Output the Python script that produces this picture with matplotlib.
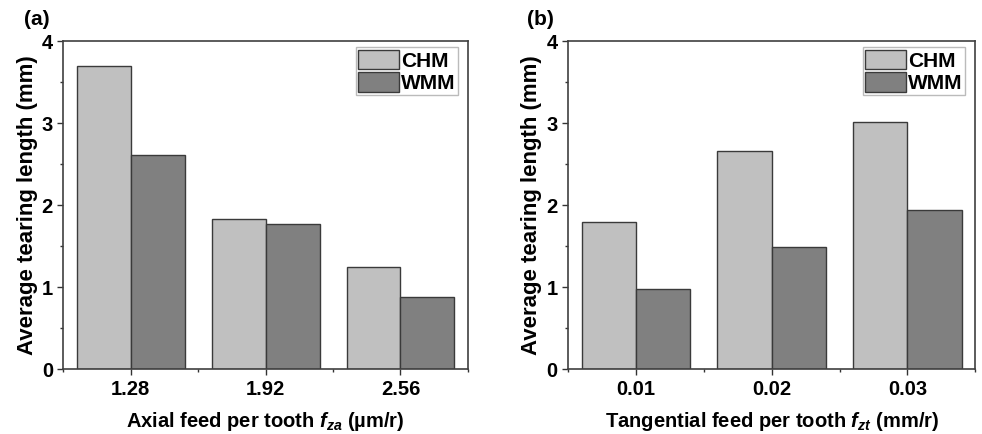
import numpy as np
import matplotlib
matplotlib.use("Agg")
import matplotlib.pyplot as plt
from matplotlib.ticker import MultipleLocator

plt.rcParams['font.family'] = ['Liberation Sans', 'DejaVu Sans']
plt.rcParams['font.weight'] = 'bold'
plt.rcParams['mathtext.fontset'] = 'custom'
plt.rcParams['mathtext.it'] = 'Liberation Sans:italic:bold'
plt.rcParams['mathtext.rm'] = 'Liberation Sans:bold'

# Données
axial_feed = ["1.28", "1.92", "2.56"]
axial_chm = [3.70, 1.83, 1.25]
axial_wmm = [2.61, 1.77, 0.88]

tang_feed = ["0.01", "0.02", "0.03"]
tang_chm = [1.79, 2.66, 3.01]
tang_wmm = [0.98, 1.49, 1.94]

series_names = ["CHM", "WMM"]
colors = ["#c0c0c0", "#808080"]
edge = "#3a3a3a"

fig = plt.figure(figsize=(9.82, 4.34), dpi=100)
ax1 = fig.add_axes([0.0645, 0.149, 0.412, 0.7565])
ax2 = fig.add_axes([0.5787, 0.149, 0.4143, 0.7565])

panels = [
    (ax1, axial_feed, axial_chm, axial_wmm,
     r"Axial feed per tooth $f_{za}$ (µm/r)"),
    (ax2, tang_feed, tang_chm, tang_wmm,
     r"Tangential feed per tooth $f_{zt}$ (mm/r)"),
]

width = 0.4
for ax, cats, chm, wmm, xlabel in panels:
    x = np.arange(len(cats))
    ax.bar(x - width / 2, chm, width, color=colors[0], edgecolor=edge,
           linewidth=1.0, label=series_names[0])
    ax.bar(x + width / 2, wmm, width, color=colors[1], edgecolor=edge,
           linewidth=1.0, label=series_names[1])

    ax.set_xlim(-0.5, 2.5)
    ax.set_ylim(0, 4)
    ax.set_xticks(x)
    ax.set_xticklabels(cats)
    ax.xaxis.set_minor_locator(MultipleLocator(0.5))
    ax.yaxis.set_major_locator(MultipleLocator(1))
    ax.yaxis.set_minor_locator(MultipleLocator(0.5))
    ax.tick_params(which='major', direction='out', length=4.5, width=1.0,
                   labelsize=14.5, color="#333333", pad=3)
    ax.tick_params(which='minor', direction='out', length=2.2, width=1.0,
                   color="#333333")
    ax.tick_params(top=False, right=False, which='both')
    for s in ax.spines.values():
        s.set_color("#404040")
        s.set_linewidth(1.2)

    ax.set_xlabel(xlabel, fontsize=14.5, fontweight='bold', labelpad=8)
    ax.set_ylabel("Average tearing length (mm)", fontsize=16,
                  fontweight='bold', labelpad=3)

    leg = ax.legend(loc='upper right', bbox_to_anchor=(0.976, 0.981),
                    fontsize=15, frameon=True, fancybox=False,
                    edgecolor="#aaaaaa", borderpad=0.12, borderaxespad=0,
                    handlelength=1.95, handleheight=1.05, handletextpad=0.12,
                    labelspacing=0.08)
    leg.get_frame().set_linewidth(1.0)

fig.text(24 / 982, 0.978, "(a)", fontsize=15, fontweight='bold', va='top', ha='left')
fig.text(527 / 982, 0.978, "(b)", fontsize=15, fontweight='bold', va='top', ha='left')

fig.savefig("out.png", dpi=100)
